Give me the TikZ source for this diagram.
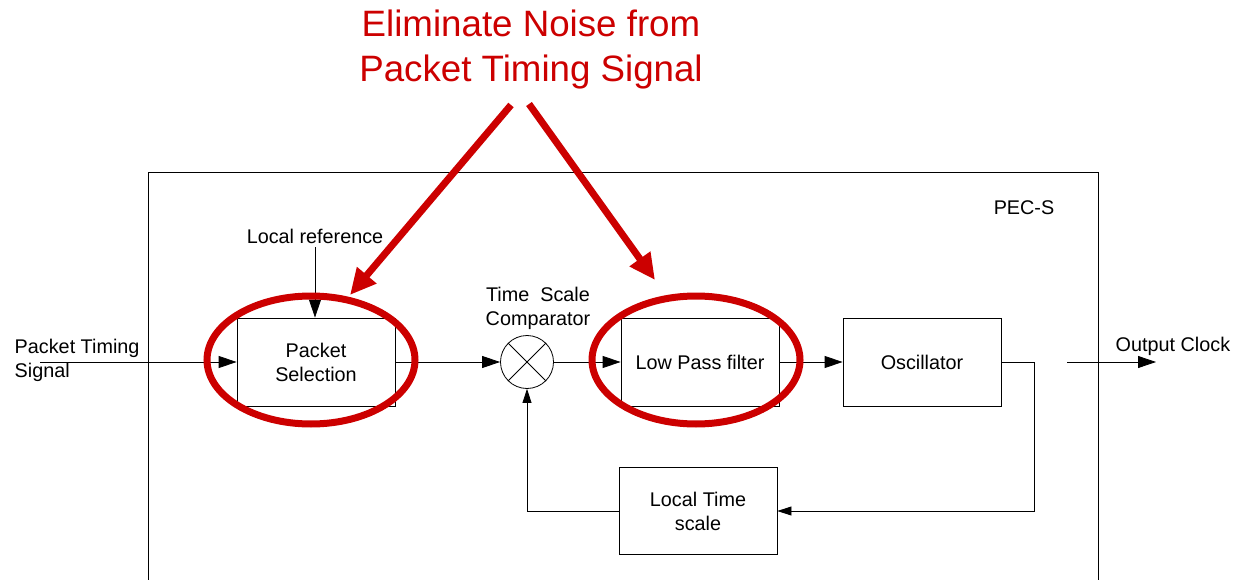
\documentclass[tikz,border=0pt]{standalone}
\usepackage{fontspec}
\setmainfont{Liberation Sans}
\usetikzlibrary{arrows.meta,positioning}
\definecolor{noisered}{HTML}{CC0000}

\begin{document}
\begin{tikzpicture}[x=1pt, y=-1pt, line width=0.8pt,
    font=\fontsize{19.8}{24}\selectfont,
    blk/.style={draw, minimum width=158pt, minimum height=88pt, inner sep=0pt, align=center},
    sig/.style={-{Triangle[length=18pt,width=12pt]}},
    fb/.style={-{Triangle[length=14pt,width=9pt]}},
    noise/.style={draw=noisered, line width=7pt},
    pointer/.style={noisered, line width=7pt, -{Triangle[length=26pt,width=24pt]}}]
  \useasboundingbox (0,0) rectangle (1234,580);
  % PEC-S frame, open at the bottom
  \draw (148,580) -- (148,172) -- (1098,172) -- (1098,580);
  \node (pecs) at (1024,208) {PEC-S};
  % forward path
  \node[blk] (psel) at (316,362) {Packet\\Selection};
  \node[draw, circle, minimum size=53pt, inner sep=0pt] (cmp) at (527,362) {};
  \draw (cmp.north west) -- (cmp.south east) (cmp.north east) -- (cmp.south west);
  \node[blk] (lpf) at (700,362) {Low Pass filter};
  \node[blk] (osc) at (922,362) {Oscillator};
  \node[blk, minimum height=87pt] (lts) at (698,511) {Local Time\\scale};
  % labels
  \node[align=left, anchor=west] (pts) at (11,360) {Packet Timing\\Signal};
  \node (lref) at (315,236) {Local reference};
  \node[align=center] (tsc) at (538,308) {Time~ Scale\\Comparator};
  \node[anchor=west] (oclk) at (1112,346) {Output Clock};
  % connectors
  \coordinate (in) at (40,362);
  \draw[sig] (in) -- (psel);
  \draw[sig] (lref.south) -- (lref.south |- psel.north);
  \draw[sig] (psel) -- (cmp);
  \draw[sig] (cmp) -- (lpf);
  \draw[sig] (lpf) -- (osc);
  \coordinate (loop) at (1034,362);
  \draw[fb] (osc.east) -- (loop) |- (lts.east);
  \draw[fb] (lts.west) -| (cmp.south);
  \coordinate (out) at (1067,362);
  \coordinate (outtip) at (1156,362);
  \draw[sig] (out) -- (outtip);
  % the two noise-rejecting stages
  \draw[noise] (311,360) ellipse [x radius=104pt, y radius=64pt];
  \draw[noise] (696,360) ellipse [x radius=104pt, y radius=64pt];
  \node[text=noisered, font=\fontsize{36.7}{45}\selectfont, align=center] (title) at (531,50)
    {Eliminate Noise from\\Packet Timing Signal};
  \coordinate (p1) at (511,105);
  \coordinate (t1) at (350,295);
  \coordinate (p2) at (529,104);
  \coordinate (t2) at (655,280);
  \draw[pointer] (p1) -- (t1);
  \draw[pointer] (p2) -- (t2);
\end{tikzpicture}
\end{document}
